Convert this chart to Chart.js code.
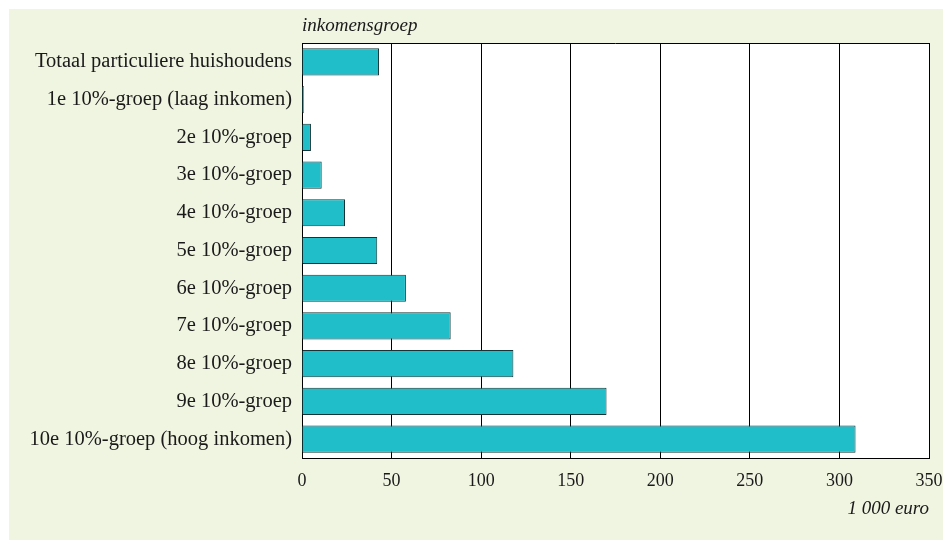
<!DOCTYPE html>
<html>
<head>
<meta charset="utf-8">
<script src="https://cdn.jsdelivr.net/npm/chart.js@4"></script>
<style>
  body { margin: 0; background: #ffffff; }
  canvas { display: block; }
</style>
</head>
<body>
<canvas id="chart" width="943" height="540"></canvas>
<script>
// categorieën (van boven naar beneden)
const groepen = [
    'Totaal particuliere huishoudens',
    '1e 10%-groep (laag inkomen)',
    '2e 10%-groep',
    '3e 10%-groep',
    '4e 10%-groep',
    '5e 10%-groep',
    '6e 10%-groep',
    '7e 10%-groep',
    '8e 10%-groep',
    '9e 10%-groep',
    '10e 10%-groep (hoog inkomen)'
];

// waarden in 1 000 euro
const waarden = [43, 1, 5, 11, 24, 42, 58, 83, 118, 170, 309];

const asMin = 0;
const asMax = 350;
const asStap = 50;

const FONT = "'Liberation Serif', 'DejaVu Serif', serif";

// achtergrondpaneel, wit plotvlak en teksten
const paneel = {
    id: 'paneel',
    beforeDraw(chart) {
        const { ctx, chartArea: a } = chart;
        ctx.save();
        ctx.fillStyle = '#f0f5e1';
        ctx.fillRect(9, 9, chart.width - 9, chart.height - 9);
        ctx.fillStyle = '#ffffff';
        ctx.fillRect(a.left, a.top, a.right - a.left, a.bottom - a.top);
        ctx.restore();
    },
    afterDraw(chart) {
        const { ctx, chartArea: a } = chart;
        ctx.save();
        // bovenrand plotvlak
        ctx.strokeStyle = '#000';
        ctx.lineWidth = 1;
        ctx.beginPath();
        ctx.moveTo(a.left, a.top + 0.5);
        ctx.lineTo(a.right, a.top + 0.5);
        ctx.stroke();
        // as-titels
        ctx.fillStyle = '#1a1a1a';
        ctx.font = 'italic 19px ' + FONT;
        ctx.textBaseline = 'middle';
        ctx.textAlign = 'left';
        ctx.fillText('inkomensgroep', a.left, 26);
        ctx.textAlign = 'right';
        ctx.fillText('1 000 euro', a.right, 509);
        ctx.restore();
    }
};

new Chart(document.getElementById('chart').getContext('2d'), {
    type: 'bar',
    data: {
        labels: groepen,
        datasets: [{
            data: waarden,
            backgroundColor: '#20bec8',
            borderColor: '#163436',
            borderWidth: 1,
            barPercentage: 0.72,
            categoryPercentage: 1
        }]
    },
    options: {
        indexAxis: 'y',
        responsive: false,
        animation: false,
        layout: { padding: { left: 0, top: 43, right: 14, bottom: 0 } },
        plugins: {
            legend: { display: false },
            tooltip: { enabled: false }
        },
        scales: {
            x: {
                min: asMin,
                max: asMax,
                afterFit: (s) => {
                    s.height = 82;
                    s.paddingLeft = 0;
                    s.paddingRight = 0;
                },
                ticks: {
                    stepSize: asStap,
                    padding: 12,
                    color: '#1a1a1a',
                    font: { family: FONT, size: 18 }
                },
                grid: { color: '#000', lineWidth: 1, drawTicks: false },
                border: { display: true, color: '#000' }
            },
            y: {
                afterFit: (s) => { s.width = 302; },
                ticks: {
                    padding: 10,
                    color: '#1a1a1a',
                    font: { family: FONT, size: 20.5 }
                },
                grid: { display: false, drawTicks: false },
                border: { display: true, color: '#000' }
            }
        }
    },
    plugins: [paneel]
});
</script>
</body>
</html>
